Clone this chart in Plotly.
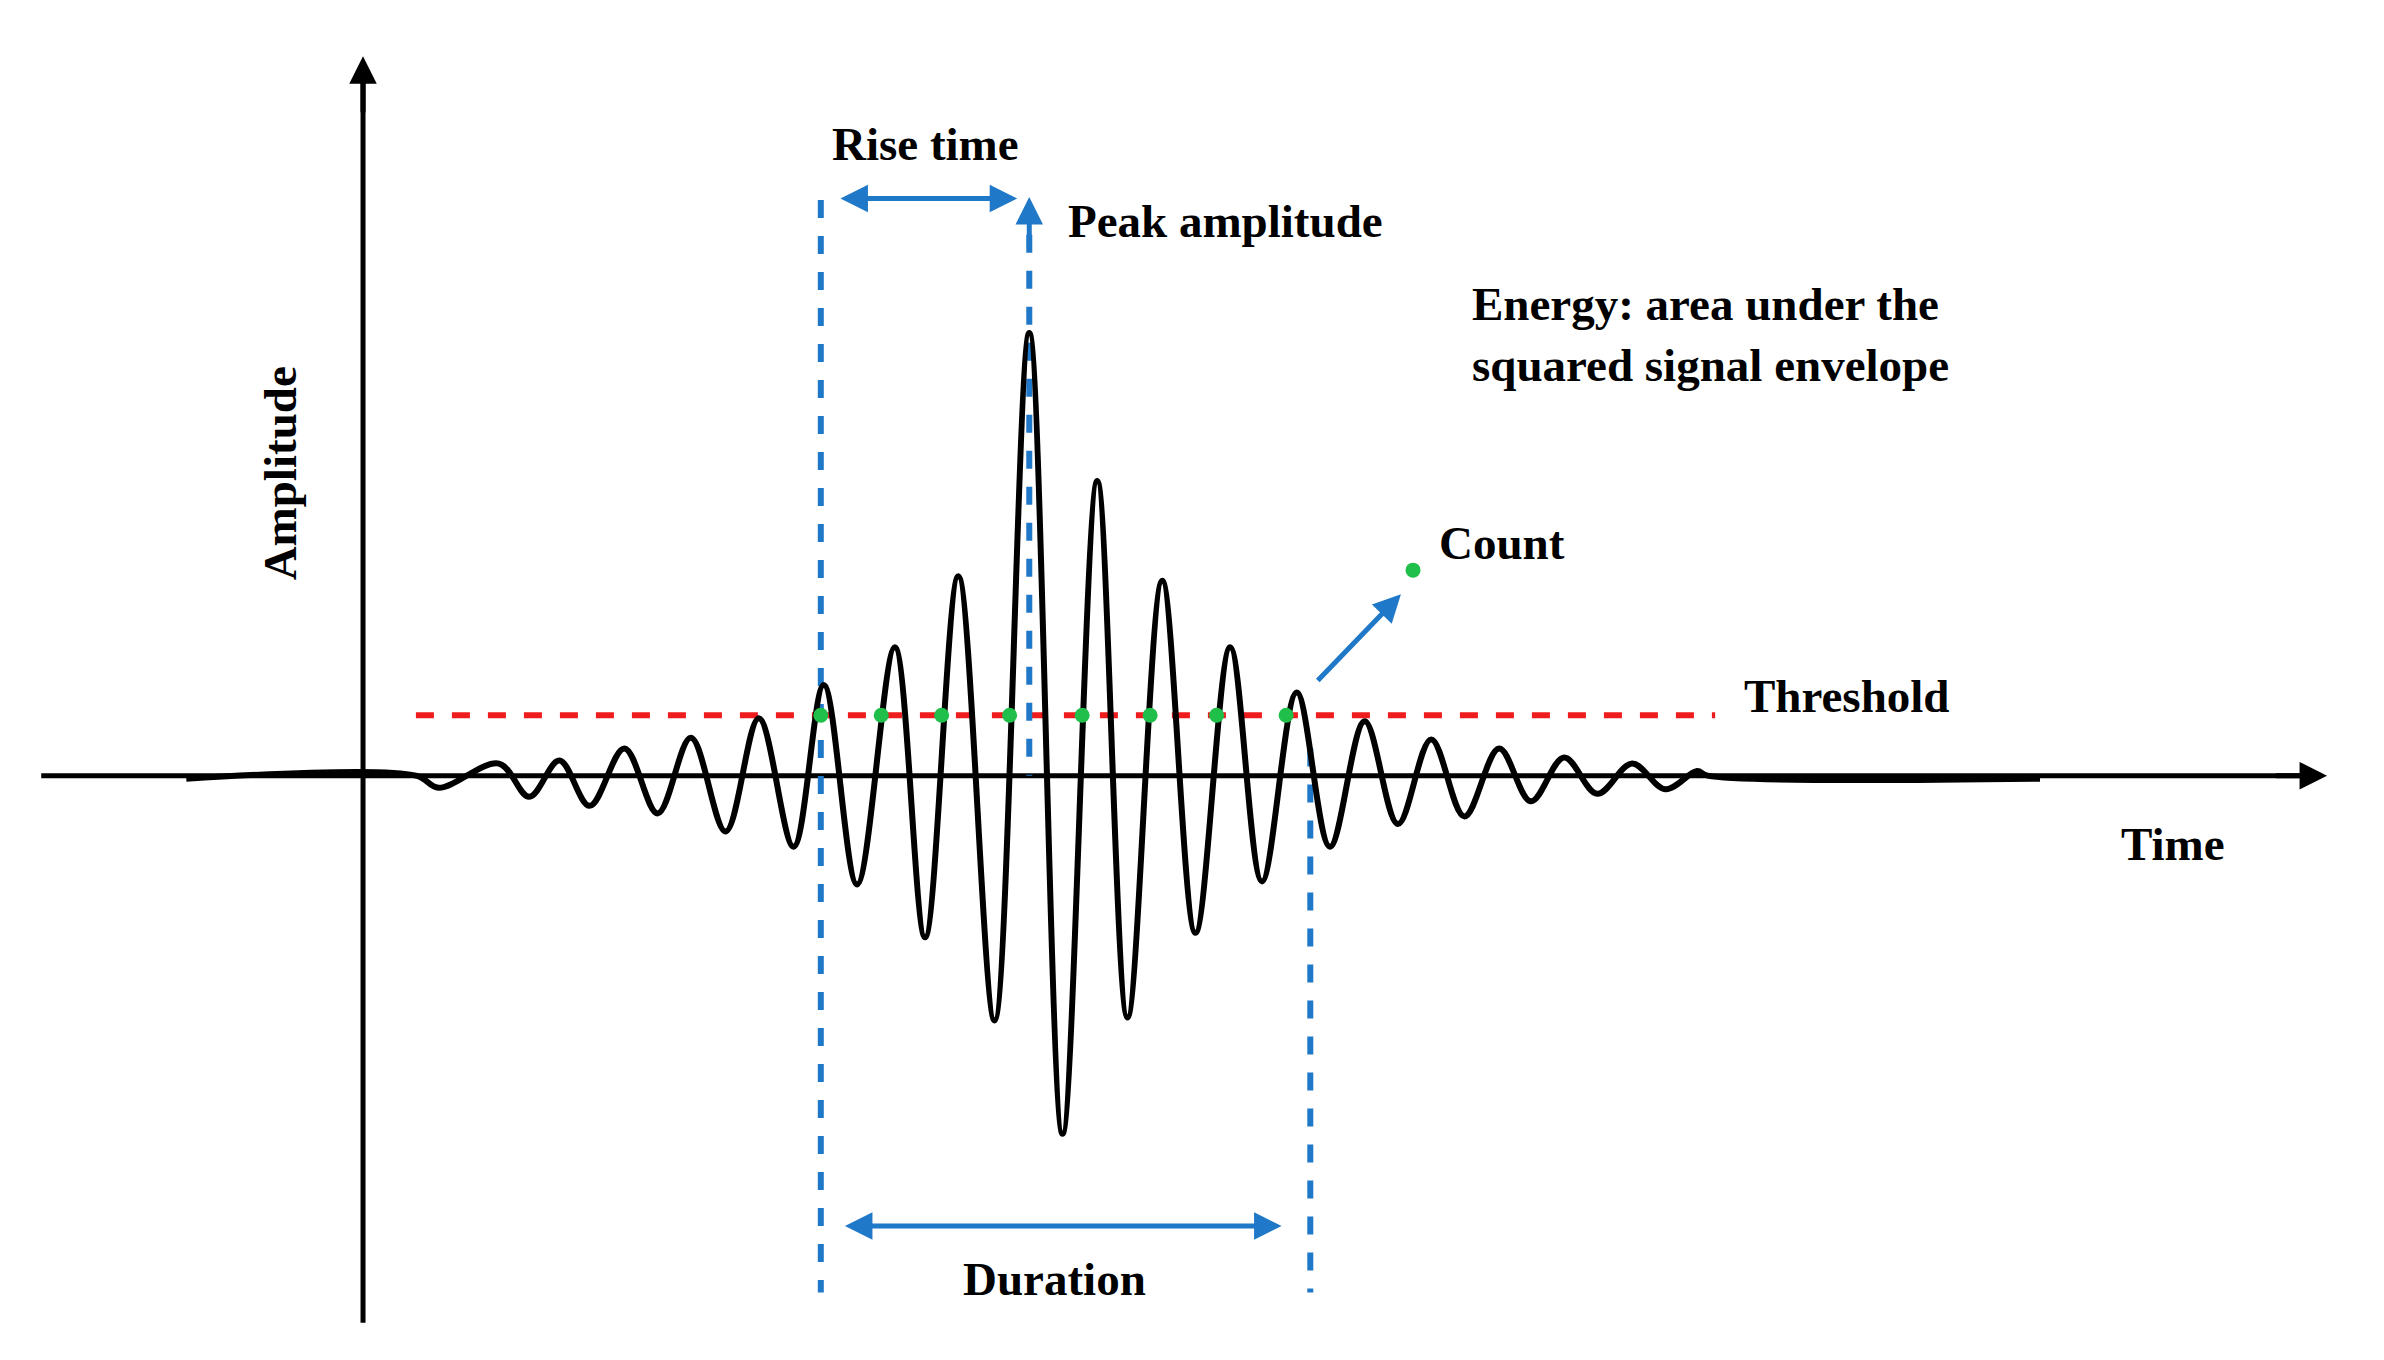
import plotly.graph_objects as go

# waveform extrema (x, y in image units, y grows downward)
wave_x = [118, 270, 285, 325, 345, 365, 385, 408, 430, 452, 475, 497, 520, 540, 562, 587, 607,
          629, 653, 676, 698, 721, 741, 764, 786, 809, 830, 853, 875, 898, 920, 942, 964,
          987, 1008, 1030, 1052, 1075, 1097, 1118, 1125, 1345]
wave_y = [510, 508, 516, 500, 522, 498, 528, 490, 533, 483, 545, 470, 555, 448, 580, 423, 615,
          376, 670, 215, 745, 313, 668, 379, 612, 423, 578, 453, 555, 472, 540, 484, 535,
          490, 525, 496, 520, 500, 517, 505, 508, 510]
count_x = [538, 578, 618, 663, 711, 756, 800, 846]
threshold_y = 468

BLUE = '#1f78c8'
FONT = dict(family='Liberation Serif', size=47, color='black')

fig = go.Figure()
# axes
fig.add_trace(go.Scatter(x=[22, 1520], y=[508, 508], mode='lines',
                         line=dict(color='black', width=5), hoverinfo='skip'))
fig.add_trace(go.Scatter(x=[235, 235], y=[870, 45], mode='lines',
                         line=dict(color='black', width=5), hoverinfo='skip'))
# threshold
fig.add_trace(go.Scatter(x=[270, 1130], y=[threshold_y] * 2, mode='lines',
                         line=dict(color='#ee1c1c', width=6, dash='dash')))
# blue guides
for xs, ys in [([538, 538], [127, 850]), ([676, 676], [150, 508]), ([862, 862], [490, 850])]:
    fig.add_trace(go.Scatter(x=xs, y=ys, mode='lines',
                             line=dict(color=BLUE, width=6, dash='dash')))
# signal
fig.add_trace(go.Scatter(x=wave_x, y=wave_y, mode='lines',
                         line=dict(color='black', width=6, shape='spline', smoothing=1.0)))
# counts
fig.add_trace(go.Scatter(x=count_x + [930], y=[threshold_y] * len(count_x) + [372],
                         mode='markers', marker=dict(color='#1fbf4a', size=15)))

arrows = [
    (1535, 508, 1500, 508, 'black', 'end'),
    (235, 32, 235, 70, 'black', 'end'),
    (676, 125, 676, 160, BLUE, 'end'),
    (922, 388, 866, 446, BLUE, 'end'),
    (668, 126, 550, 126, BLUE, 'end+start'),
    (843, 806, 553, 806, BLUE, 'end+start'),
]
for x, y, ax, ay, c, side in arrows:
    fig.add_annotation(x=x, y=y, ax=ax, ay=ay, xref='x', yref='y', axref='x', ayref='y',
                       text='', showarrow=True, arrowhead=2, arrowsize=1.1, arrowwidth=5,
                       arrowcolor=c, arrowside=side)

texts = [
    (607, 90, 'Rise time', 'center', 0),
    (700, 141, 'Peak amplitude', 'left', 0),
    (968, 216, 'Energy: area under the<br>squared signal envelope', 'left', 0),
    (946, 354, 'Count', 'left', 0),
    (1148, 455, 'Threshold', 'left', 0),
    (1433, 553, 'Time', 'center', 0),
    (693, 841, 'Duration', 'center', 0),
    (180, 308, 'Amplitude', 'center', -90),
]
for x, y, t, anchor, ang in texts:
    fig.add_annotation(x=x, y=y, xref='x', yref='y', text='<b>' + t + '</b>', showarrow=False,
                       xanchor=anchor, yanchor='middle', align='left', textangle=ang, font=FONT)

fig.update_layout(
    width=2384, height=1360, margin=dict(l=0, r=0, t=0, b=0),
    plot_bgcolor='white', paper_bgcolor='white', showlegend=False,
    xaxis=dict(range=[0, 1578], visible=False),
    yaxis=dict(range=[900, 0], visible=False),
)
fig.write_html('out.html')
